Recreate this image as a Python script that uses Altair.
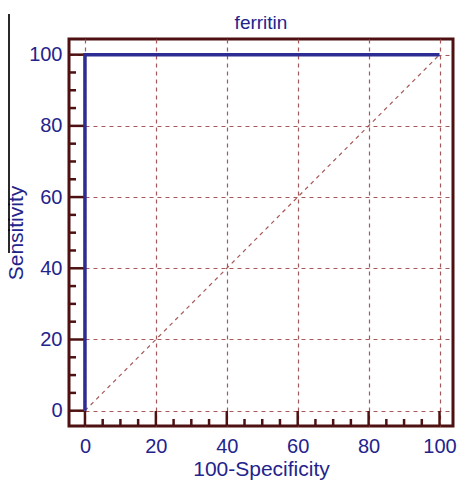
import altair as alt
import pandas as pd

# ROC curve points (100-Specificity, Sensitivity)
roc_fpr = [0, 0, 100]
roc_tpr = [0, 100, 100]
roc_order = [0, 1, 2]
# reference diagonal
diag_x = [0, 100]
diag_y = [0, 100]
# axis ticks
major_ticks = [0, 20, 40, 60, 80, 100]
minor_ticks = [5, 10, 15, 25, 30, 35, 45, 50, 55, 65, 70, 75, 85, 90, 95]
chart_title = ["ferritin"]

W, H = 384, 387
BLUE = "#23238c"
LINE = "#2c2c92"
FRAME = "#4e1010"
GRID = "#a65858"
FONT = "Liberation Sans"

xs = alt.Scale(domain=[-4.5, 103.8], nice=False, zero=False)
ys = alt.Scale(domain=[-4.3, 104.4], nice=False, zero=False)

xax = alt.Axis(title="100-Specificity", values=major_ticks, grid=True, ticks=False, tickSize=0,
               domain=False, labelPadding=10, titlePadding=2)
yax = alt.Axis(title="Sensitivity", values=major_ticks, grid=True, ticks=False, tickSize=0,
               domain=False, labelPadding=7, titlePadding=2)

def X(f="x"):
    return alt.X(f"{f}:Q", scale=xs, axis=xax)

def Y(f="y"):
    return alt.Y(f"{f}:Q", scale=ys, axis=yax)

roc_df = pd.DataFrame({"x": roc_fpr, "y": roc_tpr, "o": roc_order})
diag_df = pd.DataFrame({"x": diag_x, "y": diag_y})
maj_df = pd.DataFrame({"x": major_ticks, "y": major_ticks})
min_df = pd.DataFrame({"x": minor_ticks, "y": minor_ticks})
title_df = pd.DataFrame({"t": chart_title})

diag = alt.Chart(diag_df).mark_line(color=GRID, strokeWidth=1.2, strokeDash=[4, 4]).encode(
    x=X(), y=Y())

ymaj = alt.Chart(maj_df).mark_rule(color=FRAME, strokeWidth=2.5).encode(
    y=Y(), x=alt.value(0), x2=alt.value(15))
ymin = alt.Chart(min_df).mark_rule(color=FRAME, strokeWidth=2.5).encode(
    y=Y(), x=alt.value(0), x2=alt.value(7))
xmaj = alt.Chart(maj_df).mark_rule(color=FRAME, strokeWidth=2.5).encode(
    x=X(), y=alt.value(H), y2=alt.value(H - 15))
xmin = alt.Chart(min_df).mark_rule(color=FRAME, strokeWidth=2.5).encode(
    x=X(), y=alt.value(H), y2=alt.value(H - 7))

roc = alt.Chart(roc_df).mark_line(color=LINE, strokeWidth=3.5, strokeJoin="miter").encode(
    x=X(), y=Y(), order="o:Q")

side = alt.Chart(diag_df).mark_rule(color="#000000", strokeWidth=1.2).encode(
    x=alt.value(-60), y=alt.value(-25), y2=alt.value(214))

title = alt.Chart(title_df).mark_text(
    font=FONT, fontSize=19, color=BLUE, align="center", baseline="alphabetic"
).encode(text="t:N", x=alt.value(W / 2), y=alt.value(-10))

chart = alt.layer(diag, ymaj, ymin, xmaj, xmin, roc, side, title).properties(
    width=W, height=H,
    autosize=alt.AutoSizeParams(type="none"),
    padding={"left": 61, "top": 31, "right": 4, "bottom": 58},
).configure_view(
    stroke=FRAME, strokeWidth=3
).configure_axis(
    labelFont=FONT, labelFontSize=20, labelColor=BLUE,
    titleFont=FONT, titleFontSize=21, titleColor=BLUE, titleFontWeight="normal",
    gridColor=GRID, gridDash=[4, 4], gridWidth=1.2, gridOpacity=1,
)

chart.save("out.html", embed_options={"renderer": "svg", "actions": False})
